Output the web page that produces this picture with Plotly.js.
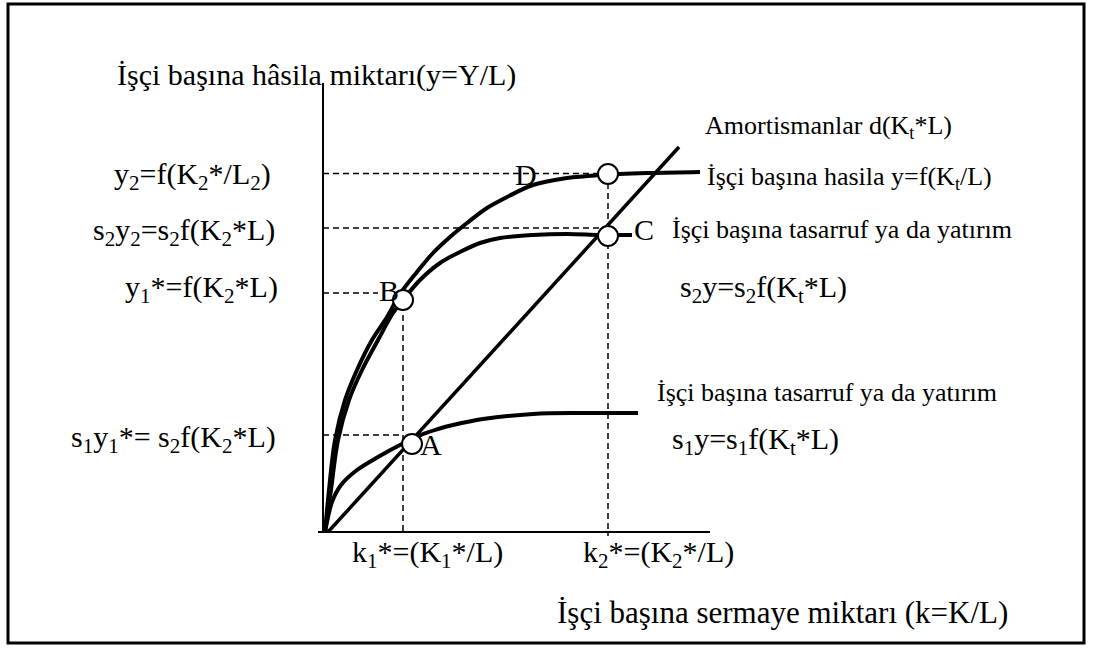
<!DOCTYPE html>
<html>
<head>
<meta charset="utf-8">
<script src="https://cdn.plot.ly/plotly-3.0.1.min.js"></script>
<style>
	body { margin: 0; background: #fff; }
	#chart { width: 1093px; height: 648px; }
</style>
</head>
<body>
<div id="chart"></div>
<script>
// İşçi başına hâsıla f(k)
const fK = [2, 6, 12, 22, 34, 49, 64, 77, 94, 110, 127, 144, 164, 184, 210, 244, 277, 327, 377];
const fY = [0, 42, 92, 132, 162, 192, 215, 238, 260, 279, 295, 309, 324, 335, 347, 354, 357, 359, 360];
// s2 f(k)
const s2K = [2, 8, 15, 26, 39, 55, 70, 80, 97, 117, 137, 157, 177, 210, 244, 277, 309];
const s2Y = [0, 42, 92, 132, 162, 192, 219, 232, 252, 269, 280, 289, 294, 297, 298, 297, 297];
// s1 f(k)
const s1K = [2, 4, 9, 18, 34, 55, 77, 88, 100, 115, 130, 160, 210, 260, 315];
const s1Y = [0, 10, 30, 47, 62, 75, 87, 92, 98, 103, 107, 113, 118, 119, 119];
// amortismanlar d*k
const dK = [5, 356];
const dY = [0, 385];
// denge noktaları A, B, C, D
const ptNames = ["A", "B", "C", "D"];
const ptK = [89, 80, 285, 285];
const ptY = [88, 232, 296, 358];
// kesikli çizgi seviyeleri
const levelY = [97, 239, 304, 358.5];
const levelEnd = [80, 55, 277, 275];
const k1Star = 80, k2Star = 285;

const FONT = "Liberation Serif";

function seg(x, y, width, dash, smooth) {
	return {x: x, y: y, type: "scatter", mode: "lines", hoverinfo: "skip",
		line: {color: "#000", width: width, dash: dash || "solid",
			shape: smooth ? "spline" : "linear", smoothing: 1}};
}

const traces = [];
// eksenler
traces.push(seg([0, 0], [0, 449], 2));
traces.push(seg([-5, 387], [0, 0], 2));
// kesikli çizgiler
levelY.forEach((y, i) => traces.push(seg([0, levelEnd[i]], [y, y], 1.5, "6px,4px")));
traces.push(seg([k1Star, k1Star], [227, 0], 1.5, "6px,4px"));
traces.push(seg([k2Star, k2Star], [349, -4], 1.5, "6px,4px"));
// eğriler
traces.push(seg(fK, fY, 4, null, true));
traces.push(seg(s2K, s2Y, 4, null, true));
traces.push(seg(s1K, s1Y, 4, null, true));
traces.push(seg(dK, dY, 3.5));
// noktalar
traces.push({x: ptK, y: ptY, type: "scatter", mode: "markers", hoverinfo: "skip",
	marker: {size: 20, color: "#fff", line: {color: "#000", width: 2}}});

function ann(x, y, text, size, anchor) {
	return {x: x, y: y, xref: "x", yref: "y", text: text, showarrow: false,
		xanchor: anchor || "left", yanchor: "middle",
		font: {family: FONT, size: size, color: "#000"}};
}

const annotations = [
	ann(-208, 457, "İşçi başına hâsila miktarı(y=Y/L)", 30),
	ann(-50, 356, "y<sub>2</sub>=f(K<sub>2</sub>*/L<sub>2</sub>)", 30, "right"),
	ann(-46, 300, "s<sub>2</sub>y<sub>2</sub>=s<sub>2</sub>f(K<sub>2</sub>*L)", 30, "right"),
	ann(-43, 243, "y<sub>1</sub>*=f(K<sub>2</sub>*L)", 30, "right"),
	ann(-45, 93, "s<sub>1</sub>y<sub>1</sub>*= s<sub>2</sub>f(K<sub>2</sub>*L)", 30, "right"),
	ann(27, -22, "k<sub>1</sub>*=(K<sub>1</sub>*/L)", 30),
	ann(258, -22, "k<sub>2</sub>*=(K<sub>2</sub>*/L)", 30),
	ann(232, -80, "İşçi başına sermaye miktarı (k=K/L)", 31),
	ann(380, 405, "Amortismanlar d(K<sub>t</sub>*L)", 26),
	ann(382, 354, "İşçi başına hasila y=f(K<sub>t</sub>/L)", 26),
	ann(347, 303, "İşçi başına tasarruf ya da yatırım", 26),
	ann(355, 243, "s<sub>2</sub>y=s<sub>2</sub>f(K<sub>t</sub>*L)", 30),
	ann(332, 140, "İşçi başına tasarruf ya da yatırım", 26),
	ann(347, 91, "s<sub>1</sub>y=s<sub>1</sub>f(K<sub>t</sub>*L)", 30),
	ann(95, 88, ptNames[0], 30),
	ann(54, 242, ptNames[1], 30),
	ann(309, 303, ptNames[2], 30),
	ann(190, 358, ptNames[3], 30)
];

const layout = {
	width: 1093,
	height: 648,
	margin: {l: 0, r: 0, t: 0, b: 0},
	paper_bgcolor: "#fff",
	plot_bgcolor: "#fff",
	showlegend: false,
	xaxis: {range: [-323, 770], visible: false, fixedrange: true},
	yaxis: {range: [-116, 532], visible: false, fixedrange: true},
	annotations: annotations,
	shapes: [{type: "rect", xref: "paper", yref: "paper",
		x0: 8 / 1093, x1: 1084 / 1093, y0: 1 - 643 / 648, y1: 1 - 4 / 648,
		line: {color: "#000", width: 3}}]
};

Plotly.newPlot("chart", traces, layout, {displayModeBar: false, staticPlot: true});
</script>
</body>
</html>
